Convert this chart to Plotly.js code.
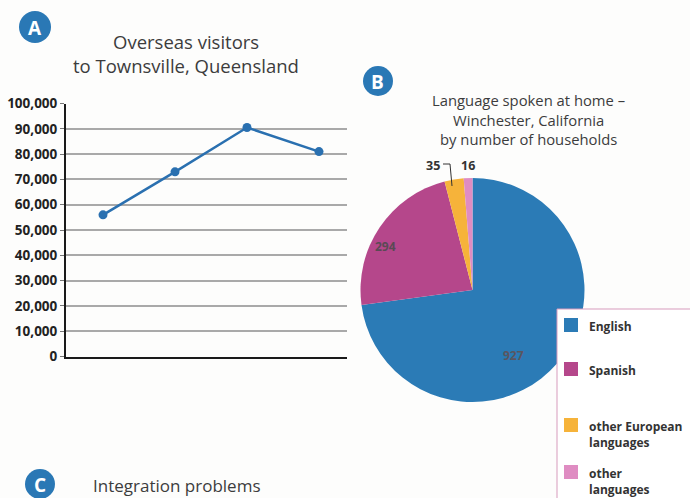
<!DOCTYPE html>
<html>
<head>
<meta charset="utf-8">
<script src="https://cdn.plot.ly/plotly-3.0.1.min.js"></script>
<style>
  html, body { margin: 0; padding: 0; background: #fdfdfc; }
  #chart { width: 690px; height: 498px; }
</style>
</head>
<body>
<div id="chart"></div>
<script>
// ---- Data: chart A (line) ----
var visitorPeriods = [1, 2, 3, 4];
var visitorCounts = [56000, 73000, 90500, 81000];
var visitorTickVals = [0, 10000, 20000, 30000, 40000, 50000, 60000, 70000, 80000, 90000, 100000];

// ---- Data: chart B (pie) ----
var languageLabels = ['English', 'Spanish', 'other European languages', 'other languages'];
var legendLabels = ['English', 'Spanish', 'other European<br>languages', 'other<br>languages'];
var householdCounts = [927, 294, 35, 16];
var languageColors = ['#2b7bb6', '#b5478b', '#f6b33a', '#df8cc2'];

// ---- Titles ----
var titleA = ['Overseas visitors', 'to Townsville, Queensland'];
var titleB = ['Language spoken at home –', 'Winchester, California', 'by number of households'];
var titleC = 'Integration problems';

var W = 690, H = 498;
function px(x) { return x / W; }
function py(y) { return 1 - y / H; }

var FONT = '"Open Sans", "Noto Sans", sans-serif';
var BLUE = '#2a78b5';

var traces = [
  {
    type: 'scatter',
    mode: 'lines+markers',
    x: visitorPeriods,
    y: visitorCounts,
    xaxis: 'x', yaxis: 'y',
    line: { color: '#2a70b0', width: 2.5 },
    marker: { color: '#2a70b0', size: 9 },
    hoverinfo: 'skip',
    showlegend: false
  },
  {
    type: 'pie',
    labels: languageLabels,
    values: householdCounts,
    sort: false,
    direction: 'clockwise',
    rotation: 0,
    textinfo: 'none',
    marker: { colors: languageColors, line: { width: 0 } },
    domain: { x: [px(360.5), px(584.5)], y: [py(402), py(178)] },
    showlegend: false,
    hoverinfo: 'skip'
  }
];

var annotations = [];
var shapes = [];

function badge(cx, cy, r, letter) {
  shapes.push({
    type: 'circle', xref: 'paper', yref: 'paper',
    x0: px(cx - r), x1: px(cx + r), y0: py(cy + r), y1: py(cy - r),
    fillcolor: BLUE, line: { width: 0 }, layer: 'above'
  });
  annotations.push({
    xref: 'paper', yref: 'paper', x: px(cx), y: py(cy + 1),
    text: '<b>' + letter + '</b>', showarrow: false,
    font: { family: FONT, size: 19, color: '#ffffff' },
    xanchor: 'center', yanchor: 'middle'
  });
}
badge(35, 27, 16, 'A');
badge(378, 81, 15, 'B');
badge(40, 484, 15, 'C');

// Title A
titleA.forEach(function (t, i) {
  annotations.push({
    xref: 'paper', yref: 'paper', x: px(186), y: py(42 + i * 24),
    text: t, showarrow: false, xanchor: 'center', yanchor: 'middle',
    font: { family: FONT, size: 18.5, color: '#3c3c3c' }
  });
});
// Title B
titleB.forEach(function (t, i) {
  annotations.push({
    xref: 'paper', yref: 'paper', x: px(528), y: py(100 + i * 19.5),
    text: t, showarrow: false, xanchor: 'center', yanchor: 'middle',
    font: { family: FONT, size: 14.8, color: '#3c3c3c' }
  });
});
// Title C
annotations.push({
  xref: 'paper', yref: 'paper', x: px(91), y: py(485),
  text: titleC, showarrow: false, xanchor: 'left', yanchor: 'middle',
  font: { family: FONT, size: 17, color: '#3c3c3c' }
});

// Pie value labels
var valuePos = [[513, 355, '#5a5560'], [386, 247, '#5a4a55'], [433, 165, '#333333'], [468, 165, '#333333']];
householdCounts.forEach(function (v, i) {
  var p = valuePos[i];
  annotations.push({
    xref: 'paper', yref: 'paper', x: px(p[0]), y: py(p[1]),
    text: '<b>' + v + '</b>', showarrow: false,
    xanchor: 'center', yanchor: 'middle',
    font: { family: FONT, size: i >= 2 ? 12.5 : 12, color: p[2] }
  });
});
// Callout line for the small slice
shapes.push({
  type: 'path', xref: 'paper', yref: 'paper',
  path: 'M ' + px(443) + ' ' + py(164) + ' L ' + px(450) + ' ' + py(164) + ' L ' + px(452) + ' ' + py(186),
  line: { color: '#333333', width: 1 }, layer: 'above'
});

// Custom legend box
shapes.push({
  type: 'rect', xref: 'paper', yref: 'paper',
  x0: px(557), x1: px(695), y0: py(503), y1: py(309),
  fillcolor: '#ffffff', line: { color: '#d79bbd', width: 1 }, layer: 'above'
});
var legendY = [325, 369, 425, 472];
legendLabels.forEach(function (t, i) {
  var cy = legendY[i];
  shapes.push({
    type: 'rect', xref: 'paper', yref: 'paper',
    x0: px(564), x1: px(578), y0: py(cy + 7), y1: py(cy - 7),
    fillcolor: languageColors[i], line: { width: 0 }, layer: 'above'
  });
  annotations.push({
    xref: 'paper', yref: 'paper', x: px(587), y: py(cy - 9),
    text: '<b>' + t + '</b>', showarrow: false, xanchor: 'left', yanchor: 'top',
    align: 'left',
    font: { family: FONT, size: 12, color: '#333333' }
  });
});

var layout = {
  width: W, height: H,
  margin: { l: 0, r: 0, t: 0, b: 0 },
  paper_bgcolor: '#fdfdfc',
  plot_bgcolor: 'rgba(0,0,0,0)',
  showlegend: false,
  font: { family: FONT },
  xaxis: {
    domain: [px(66), px(347)],
    range: [0.486, 4.389],
    showgrid: false, zeroline: false,
    showticklabels: false, ticks: '',
    showline: true, linecolor: '#1a1a1a', linewidth: 2
  },
  yaxis: {
    domain: [py(356.5), py(103.5)],
    range: [0, 100000],
    tickvals: visitorTickVals,
    tickformat: ',d',
    showgrid: true, gridcolor: '#a9a9a9', gridwidth: 2,
    zeroline: false,
    showline: true, linecolor: '#1a1a1a', linewidth: 2,
    ticks: 'outside', ticklen: 4, tickcolor: '#777', tickwidth: 1,
    tickfont: { family: FONT, size: 13.5, color: '#222', weight: 'bold' }
  },
  annotations: annotations,
  shapes: shapes
};

Plotly.newPlot('chart', traces, layout, { staticPlot: true, displayModeBar: false });
</script>
</body>
</html>
